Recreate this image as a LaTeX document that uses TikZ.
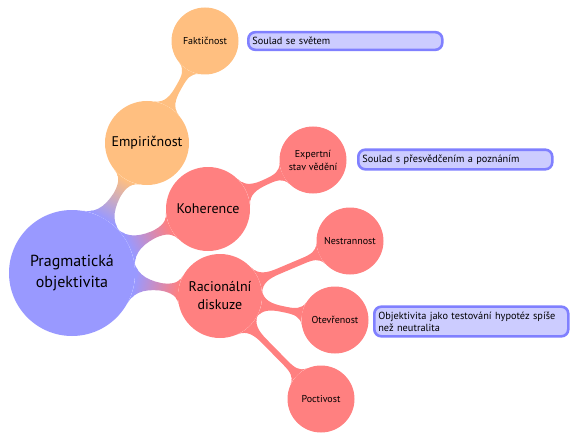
\documentclass[tikz,border=0pt]{standalone}
\usepackage{fontspec}
\setmainfont{PT Sans}
\usetikzlibrary{mindmap,backgrounds}
\begin{document}
\begin{tikzpicture}[x=1pt,y=-1pt,
  conc/.style={circle, inner sep=0pt, align=center, text=black},
  rootnode/.style={conc, fill=blue!40, minimum size=126pt, font=\fontsize{16}{21}\selectfont},
  lone/.style={conc, minimum size=84pt, font=\fontsize{14}{18}\selectfont},
  ltwo/.style={conc, minimum size=67pt, font=\fontsize{10}{13}\selectfont},
  note/.style={draw=blue!50, fill=blue!20, line width=2.6pt, rounded corners=7pt, anchor=west, text width=186pt, align=left, inner xsep=4pt, inner ysep=5pt, font=\fontsize{10.3}{12}\selectfont},
  barone/.style={line width=10pt},
  bartwo/.style={line width=7pt}
]
\useasboundingbox (0,0) rectangle (570,433);
\node[rootnode] (root) at (72,273) {Pragmatická\\objektivita};
\node[lone, fill=orange!50] (emp) at (147,143) {Empiričnost};
\node[ltwo, fill=orange!50] (fak) at (205,41) {Faktičnost};
\node[lone, fill=red!50] (koh) at (208,209) {Koherence};
\node[ltwo, fill=red!50] (exp) at (313,160) {Expertní\\stav vědění};
\node[lone, fill=red!50] (rac) at (220,296) {Racionální\\diskuze};
\node[ltwo, fill=red!50] (nes) at (350,241) {Nestrannost};
\node[ltwo, fill=red!50] (ote) at (335,320) {Otevřenost};
\node[ltwo, fill=red!50] (poc) at (321,399) {Poctivost};
\node[note] (n1) at (247,41) {Soulad se světem};
\node[note] (n2) at (357,159.5) {Soulad s přesvědčením a poznáním};
\node[note] (n3) at (373,321.5) {Objektivita jako testování hypotéz spíše\\než neutralita};
\begin{pgfonlayer}{background}
\path[barone] (root) to[circle connection bar switch color=from (blue!40) to (orange!50)] (emp);
\path[barone] (root) to[circle connection bar switch color=from (blue!40) to (red!50)] (koh);
\path[barone] (root) to[circle connection bar switch color=from (blue!40) to (red!50)] (rac);
\path[bartwo] (emp) to[circle connection bar switch color=from (orange!50) to (orange!50)] (fak);
\path[bartwo] (koh) to[circle connection bar switch color=from (red!50) to (red!50)] (exp);
\path[bartwo] (rac) to[circle connection bar switch color=from (red!50) to (red!50)] (nes);
\path[bartwo] (rac) to[circle connection bar switch color=from (red!50) to (red!50)] (ote);
\path[bartwo] (rac) to[circle connection bar switch color=from (red!50) to (red!50)] (poc);
\end{pgfonlayer}
\end{tikzpicture}
\end{document}
